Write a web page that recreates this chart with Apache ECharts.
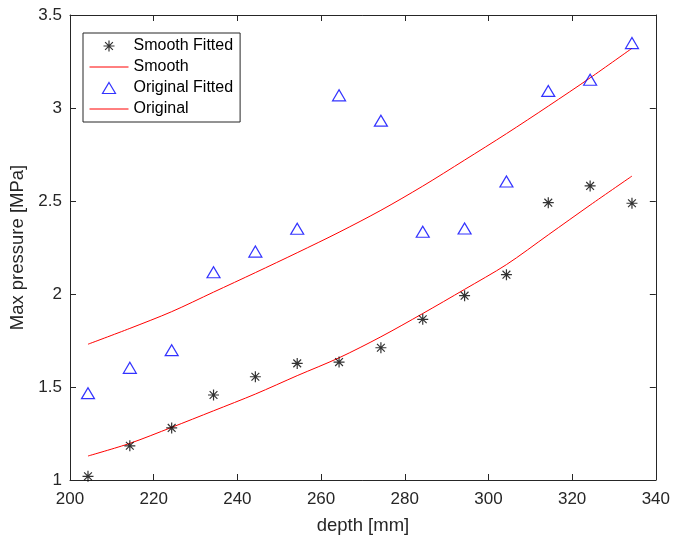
<!DOCTYPE html>
<html>
<head>
<meta charset="utf-8">
<script src="https://cdn.jsdelivr.net/npm/echarts@6/dist/echarts.min.js"></script>
<style>
  html, body { margin: 0; padding: 0; background: #ffffff; }
  #chart { width: 673px; height: 540px; }
</style>
</head>
<body>
<div id="chart"></div>
<script>
// Depth of each measurement [mm]
const depth = [204.3, 214.3, 224.3, 234.3, 244.3, 254.3, 264.3, 274.3, 284.3, 294.3, 304.3, 314.3, 324.3, 334.3];
// Measured maximum pressure [MPa]
const smoothFitted   = [1.02, 1.184, 1.28, 1.457, 1.555, 1.627, 1.634, 1.711, 1.864, 1.991, 2.104, 2.491, 2.581, 2.488];
const originalFitted = [1.467, 1.603, 1.698, 2.117, 2.228, 2.351, 3.068, 2.932, 2.335, 2.352, 2.605, 3.092, 3.152, 3.349];
// Fitted trend curves [MPa]
const smoothCurve    = [1.129, 1.197, 1.283, 1.372, 1.462, 1.561, 1.657, 1.77, 1.895, 2.025, 2.158, 2.318, 2.478, 2.634];
const originalCurve  = [1.73, 1.815, 1.905, 2.01, 2.115, 2.222, 2.332, 2.45, 2.58, 2.72, 2.862, 3.01, 3.162, 3.321];

const pairs = (xs, ys) => xs.map((x, i) => [x, ys[i]]);

const STAR = 'path://M5 0L5 10M0 5L10 5M1.46 1.46L8.54 8.54M8.54 1.46L1.46 8.54';
const AXIS_COLOR = '#262626';
const FONT = '"Liberation Sans", Arial, sans-serif';

const chart = echarts.init(document.getElementById('chart'), null, { renderer: 'canvas' });

const frameAxis = {
  type: 'value',
  axisLine: { show: true, onZero: false, lineStyle: { color: AXIS_COLOR, width: 1 } },
  axisTick: { show: true, inside: true, length: 6, lineStyle: { color: AXIS_COLOR } },
  splitLine: { show: false },
  axisLabel: { show: false }
};

chart.setOption({
  backgroundColor: '#ffffff',
  animation: false,
  textStyle: { fontFamily: FONT },
  grid: { left: 70, right: 17, top: 15, bottom: 60 },
  legend: {
    orient: 'vertical',
    left: 83,
    top: 33,
    padding: [5, 7, 5, 6],
    itemWidth: 39,
    itemHeight: 11,
    itemGap: 5,
    backgroundColor: '#ffffff',
    borderColor: AXIS_COLOR,
    borderWidth: 1,
    textStyle: { fontFamily: FONT, fontSize: 16, color: '#000000', lineHeight: 16 },
    data: [
      { name: 'Smooth Fitted', icon: STAR,
        itemStyle: { color: 'rgba(0,0,0,0)', borderColor: '#000000', borderWidth: 1.2 } },
      { name: 'Smooth',
        itemStyle: { opacity: 0 }, lineStyle: { color: '#ff0000', width: 1 } },
      { name: 'Original Fitted', icon: 'path://M6.5 0L13 11L0 11Z',
        itemStyle: { color: 'rgba(0,0,0,0)', borderColor: '#0000ff', borderWidth: 1.2 } },
      { name: 'Original',
        itemStyle: { opacity: 0 }, lineStyle: { color: '#ff0000', width: 1 } }
    ]
  },
  xAxis: [
    Object.assign({}, frameAxis, {
      position: 'bottom',
      min: 200, max: 340, interval: 20,
      name: 'depth [mm]',
      nameLocation: 'middle',
      nameGap: 36,
      nameTextStyle: { fontFamily: FONT, fontSize: 18.5, color: AXIS_COLOR },
      axisLabel: { show: true, margin: 11, fontSize: 17, color: AXIS_COLOR, fontFamily: FONT }
    }),
    Object.assign({}, frameAxis, { position: 'top', min: 200, max: 340, interval: 20 })
  ],
  yAxis: [
    Object.assign({}, frameAxis, {
      position: 'left',
      min: 1, max: 3.5, interval: 0.5,
      name: 'Max pressure [MPa]',
      nameLocation: 'middle',
      nameGap: 37,
      nameTextStyle: { fontFamily: FONT, fontSize: 18.5, color: AXIS_COLOR },
      axisLabel: { show: true, margin: 8, fontSize: 17, color: AXIS_COLOR, fontFamily: FONT }
    }),
    Object.assign({}, frameAxis, { position: 'right', min: 1, max: 3.5, interval: 0.5 })
  ],
  series: [
    {
      name: 'Smooth Fitted',
      type: 'scatter',
      data: pairs(depth, smoothFitted),
      symbol: STAR,
      symbolSize: 11,
      itemStyle: { color: 'rgba(0,0,0,0)', borderColor: '#000000', borderWidth: 1.2 },
      z: 3
    },
    {
      name: 'Smooth',
      type: 'line',
      data: pairs(depth, smoothCurve),
      symbol: 'none',
      smooth: 0.3,
      lineStyle: { color: '#ff0000', width: 1 },
      itemStyle: { color: '#ff0000' },
      z: 2
    },
    {
      name: 'Original Fitted',
      type: 'scatter',
      data: pairs(depth, originalFitted),
      symbol: 'triangle',
      symbolSize: [13, 11],
      itemStyle: { color: 'rgba(0,0,0,0)', borderColor: '#0000ff', borderWidth: 1.2 },
      z: 3
    },
    {
      name: 'Original',
      type: 'line',
      data: pairs(depth, originalCurve),
      symbol: 'none',
      smooth: 0.3,
      lineStyle: { color: '#ff0000', width: 1 },
      itemStyle: { color: '#ff0000' },
      z: 2
    }
  ]
});
</script>
</body>
</html>
